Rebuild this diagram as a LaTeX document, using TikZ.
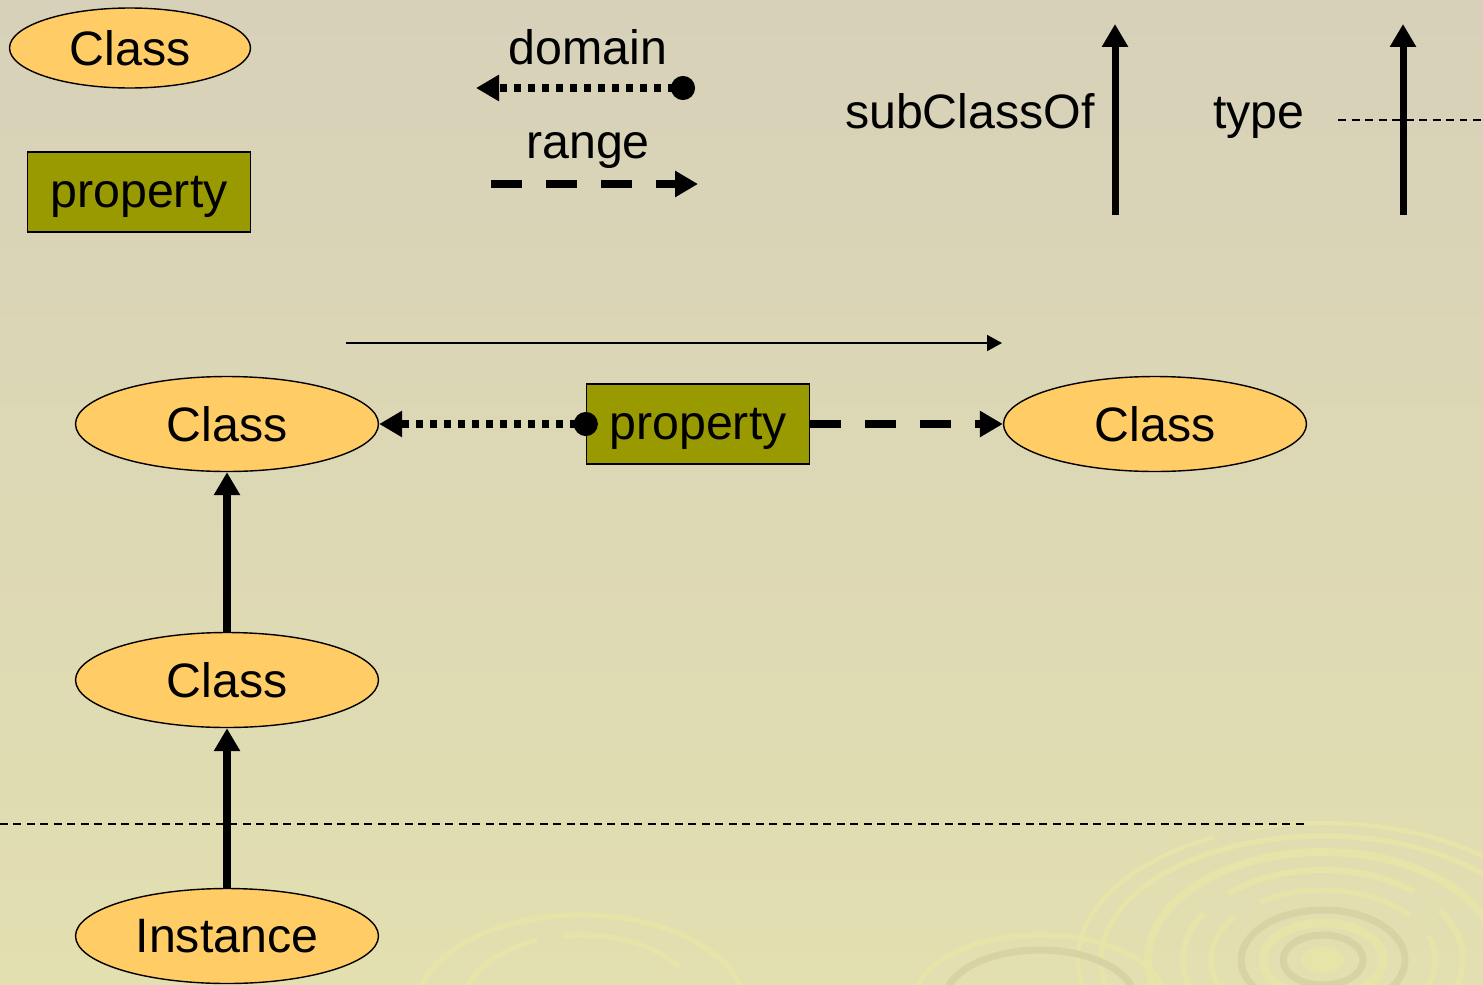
\documentclass[tikz,border=0pt]{standalone}
\usepackage{fontspec}
\setmainfont{Liberation Sans}
\usetikzlibrary{shapes.geometric,arrows.meta}
\definecolor{fondhaut}{RGB}{215,209,185}
\definecolor{fondmil}{RGB}{218,213,184}
\definecolor{fondbas}{RGB}{226,223,176}
\definecolor{deco}{RGB}{231,228,170}
\definecolor{decosombre}{RGB}{215,211,164}
\definecolor{classfill}{RGB}{255,204,102}
\definecolor{propfill}{RGB}{153,153,0}

\begin{document}
\begin{tikzpicture}[x=0.02cm,y=-0.02cm,
  every node/.style={font=\fontsize{27.5}{33}\selectfont},
  cls/.style={ellipse,draw,line width=0.8pt,fill=classfill,inner sep=0pt,
    minimum width=6.06cm,minimum height=1.9cm},
  prop/.style={rectangle,draw,line width=0.8pt,fill=propfill,inner sep=0pt,
    text depth=0pt,minimum width=4.46cm,minimum height=1.6cm},
  dom/.style={line width=4pt,dash pattern=on 0.14cm off 0.14cm,shorten <=-0.24cm,
    {Circle[length=0.48cm]}-{Triangle[length=0.46cm,width=0.5cm]}},
  rng/.style={line width=4pt,dash pattern=on 0.62cm off 0.48cm,
    -{Triangle[length=0.46cm,width=0.5cm]}},
  sub/.style={line width=4pt,-{Triangle[length=0.46cm,width=0.5cm]}},
  sep/.style={line width=1.1pt,dash pattern=on 0.16cm off 0.11cm}]
	%\draw[help lines] (0,0) grid[step=100] (1483,984);
	%FOND
	\useasboundingbox (0,0) rectangle (1483,984);
	\shade[top color=fondhaut,middle color=fondmil,bottom color=fondbas] (0,0) rectangle (1483,984);
	\begin{scope}
	  \clip (0,0) rectangle (1483,984);
	  \fill[deco] (1323,960) ellipse (22 and 13);
	  \draw[decosombre,line width=4pt] (1323,960) ellipse (40 and 25);
	  \draw[deco,line width=5pt] (1323,960) ellipse (60 and 37);
	  \draw[decosombre,line width=4pt] (1323,960) ellipse (82 and 50);
	  \draw[deco,line width=3pt,dash pattern=on 90pt off 15pt] (1323,960) ellipse (112 and 70);
	  \draw[deco,line width=3.5pt,dash pattern=on 110pt off 18pt] (1323,960) ellipse (140 and 90);
	  \draw[deco,line width=4.5pt] (1323,960) ellipse (175 and 108);
	  \draw[deco,line width=3pt] (1323,960) ellipse (222 and 124);
	  \draw[deco,line width=2.5pt,dash pattern=on 140pt off 20pt] (1323,960) ellipse (245 and 137);
	  \draw[deco,line width=3pt] (581,1010) ellipse (165 and 95);
	  \draw[deco,line width=3pt,dash pattern=on 70pt off 15pt] (581,1010) ellipse (120 and 75);
	  \draw[decosombre,line width=4pt] (1040,1000) ellipse (95 and 50);
	  \draw[deco,line width=3pt] (1040,1000) ellipse (125 and 65);
	\end{scope}

	%LEGENDE
	\node[cls,minimum width=4.82cm,minimum height=1.6cm] (lc) at (130,48) {Class};
	\node[prop] (lp) at (139,192) {property};
	\node[anchor=base] (tdom) at (588,64) {domain};
	\coordinate (d1) at (683,88);
	\coordinate (d2) at (476,88);
	\draw[dom] (d1) -- (d2);
	\node[anchor=base] (trng) at (588,158) {range};
	\coordinate (r1) at (491,184);
	\coordinate (r2) at (698,184);
	\draw[rng] (r1) -- (r2);
	\node[anchor=base east] (tsub) at (1101,128) {subClassOf};
	\coordinate (s1) at (1115,215);
	\coordinate (s2) at (1115,24);
	\draw[sub] (s1) -- (s2);
	\node[anchor=base] (ttype) at (1259,128) {type};
	\coordinate (t1) at (1403,215);
	\coordinate (t2) at (1403,24);
	\draw[sub] (t1) -- (t2);
	\coordinate (l1) at (1338,120);
	\coordinate (l2) at (1483,120);
	\draw[sep] (l1) -- (l2);

	%SCHEMA
	\coordinate (a1) at (346,343);
	\coordinate (a2) at (1002,343);
	\draw[line width=1.1pt,-{Triangle[length=0.3cm,width=0.32cm]}] (a1) -- (a2);
	\node[cls] (c1) at (227,424) {Class};
	\node[prop] (p) at (698,424) {property};
	\node[cls] (c3) at (1155,424) {Class};
	\node[cls] (c2) at (227,680) {Class};
	\node[cls] (inst) at (227,936) {Instance};
	\draw[dom] (p.west) -- (c1.east);
	\draw[rng] (p.east) -- (c3.west);
	\draw[sub] (c2.north) -- (c1.south);
	\coordinate (h1) at (0,824);
	\coordinate (h2) at (1305,824);
	\draw[sep] (h1) -- (h2);
	\draw[sub] (inst.north) -- (c2.south);
\end{tikzpicture}
\end{document}
